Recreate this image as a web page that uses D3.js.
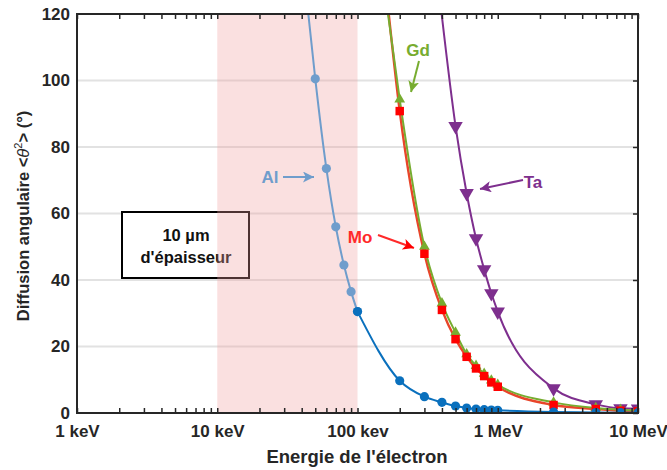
<!DOCTYPE html>
<html><head><meta charset="utf-8">
<script src="https://cdn.jsdelivr.net/npm/d3@7"></script>
<style>
body{margin:0;background:#fff;}
text{font-family:"Liberation Sans",Arial,sans-serif;font-weight:bold;}
</style></head>
<body><svg id="c" width="667" height="470"></svg>
<script>
// ---- data (energy in keV, angular diffusion in degrees) ----
const xTickValues = [1, 10, 100, 1000, 10000];
const xTickLabels = ["1 keV", "10 keV", "100 kev", "1 MeV", "10 MeV"];
const yTickValues = [0, 20, 40, 60, 80, 100, 120];

const energyAlLow = [50, 60, 70, 80, 90, 100];
const alLow = [100.5, 73.5, 56, 44.5, 36.5, 30.5];
const energyAlHigh = [100, 200, 300, 400, 500, 600, 700, 800, 900, 1000, 2500, 5000, 7500, 10000];
const alHigh = [30.5, 9.7, 4.9, 3.2, 2.1, 1.5, 1.2, 1.0, 0.9, 0.8, 0.3, 0.15, 0.1, 0.1];
const energyMoGd = [200, 300, 400, 500, 600, 700, 800, 900, 1000, 2500, 5000, 7500, 10000];
const mo = [90.8, 47.9, 31.0, 22.2, 16.9, 13.4, 11.1, 9.2, 7.9, 2.4, 1.2, 0.7, 0.5];
const gd = [94.3, 50.0, 33.0, 24.2, 17.7, 14.2, 11.8, 9.8, 8.5, 3.2, 1.5, 1.0, 0.8];
const energyTa = [500, 600, 700, 800, 900, 1000, 2500, 5000, 7500, 10000];
const ta = [86.3, 66.1, 52.5, 43.2, 36.0, 30.5, 7.4, 2.6, 1.4, 1.3];
// where each fitted curve leaves the top of the frame (energy, value)
const alTop = [44.6, 120];
const moTop = [167, 120];
const gdTop = [165, 120];
const taTop = [398, 120];
const shadedRange = [10, 100];

// ---- layout ----
const svg = d3.select("#c");
const L = 77, R = 638, T = 14, B = 413;
const x = d3.scaleLog().domain([1, 10000]).range([L, R]);
const y = d3.scaleLinear().domain([0, 120]).range([B, T]);
const axisCol = "#262626";

const defs = svg.append("defs");
defs.append("clipPath").attr("id", "clip").append("rect")
  .attr("x", L).attr("y", T).attr("width", R - L).attr("height", B - T);
function marker(id, col) {
  defs.append("marker").attr("id", id).attr("viewBox", "0 0 10 10")
    .attr("refX", 10).attr("refY", 5).attr("markerWidth", 11).attr("markerHeight", 11)
    .attr("markerUnits", "userSpaceOnUse").attr("orient", "auto")
    .append("path").attr("d", "M0,0 L10,5 L0,10 L2.5,5 Z").attr("fill", col);
}
const cAlL = "#6f9dcc", cAlH = "#0a70bd", cMo = "#ff0000", cMoLine = "#e8452a",
      cGd = "#77ac30", cTa = "#7e2f8e";
marker("aAl", cAlL); marker("aMo", cMo); marker("aGd", cGd); marker("aTa", cTa);

// grid
svg.append("g").selectAll("line").data(yTickValues.filter(v => v > 0 && v < 120)).join("line")
  .attr("x1", L).attr("x2", R).attr("y1", d => y(d)).attr("y2", d => y(d))
  .attr("stroke", "#e2e2e2").attr("stroke-width", 2);

// text box
svg.append("rect").attr("x", 122).attr("y", 212).attr("width", 127).attr("height", 66)
  .attr("fill", "#fff").attr("stroke", "#000").attr("stroke-width", 2);
svg.append("text").attr("x", 186).attr("y", 241).attr("text-anchor", "middle")
  .attr("font-size", 16.5).attr("fill", "#111").text("10 µm");
svg.append("text").attr("x", 186).attr("y", 263).attr("text-anchor", "middle")
  .attr("font-size", 16.5).attr("fill", "#111").text("d'épaisseur");

// shaded region
svg.append("rect").attr("x", x(shadedRange[0])).attr("y", T + 1)
  .attr("width", x(shadedRange[1]) - x(shadedRange[0])).attr("height", B - T - 1)
  .attr("fill", "rgb(240,160,160)").attr("opacity", 0.32);

// curves
const g = svg.append("g").attr("clip-path", "url(#clip)");
const line = d3.line().x(d => x(d[0])).y(d => y(d[1])).curve(d3.curveMonotoneX);
function pts(es, vs) { return es.map((e, i) => [e, vs[i]]); }
function drawLine(data, col, w) {
  g.append("path").datum(data).attr("d", line).attr("fill", "none")
    .attr("stroke", col).attr("stroke-width", w);
}
function drawMarks(data, type, size, col, rot) {
  g.append("g").selectAll("path").data(data).join("path")
    .attr("d", d3.symbol().type(type).size(size))
    .attr("transform", d => `translate(${x(d[0])},${y(d[1])}) rotate(${rot || 0})`)
    .attr("fill", col);
}
drawLine([taTop].concat(pts(energyTa, ta)), cTa, 2);
drawMarks(pts(energyTa, ta), d3.symbolTriangle, 90, cTa, 180);
drawLine([moTop].concat(pts(energyMoGd, mo)), cMoLine, 2.4);
drawLine([gdTop].concat(pts(energyMoGd, gd)), cGd, 2);
drawMarks(pts(energyMoGd, gd), d3.symbolTriangle, 50, cGd, 0);
drawMarks(pts(energyMoGd, mo), d3.symbolSquare, 72, cMo, 0);
drawLine([alTop].concat(pts(energyAlLow, alLow)), cAlL, 2);
drawLine(pts(energyAlHigh, alHigh), cAlH, 2);
drawMarks(pts(energyAlLow, alLow), d3.symbolCircle, 66, cAlL, 0);
drawMarks(pts(energyAlHigh, alHigh).slice(1), d3.symbolCircle, 66, cAlH, 0);
drawMarks([[energyAlHigh[0], alHigh[0]]], d3.symbolCircle, 66, cAlH, 0);

// axes
const minor = [];
for (let d = 1; d < 10000; d *= 10) for (let k = 2; k <= 9; k++) minor.push(d * k);
function styleAxis(sel) {
  sel.select(".domain").remove();
  sel.selectAll("line").attr("stroke", axisCol).attr("stroke-width", 1.5);
  sel.selectAll("text").attr("fill", axisCol).attr("font-size", 17);
}
svg.append("g").attr("transform", `translate(0,${B})`)
  .call(d3.axisBottom(x).tickValues(xTickValues.concat(minor)).tickSize(-5).tickFormat(() => ""))
  .call(styleAxis);
svg.append("g").attr("transform", `translate(0,${T})`)
  .call(d3.axisTop(x).tickValues(xTickValues.concat(minor)).tickSize(-5).tickFormat(() => ""))
  .call(styleAxis);
svg.append("g").attr("transform", `translate(0,${B})`)
  .call(d3.axisBottom(x).tickValues(xTickValues).tickSize(0).tickPadding(12)
    .tickFormat((d, i) => xTickLabels[i]))
  .call(styleAxis).selectAll("text").attr("dy", "0.71em");
svg.append("g").attr("transform", `translate(${L},0)`)
  .call(d3.axisLeft(y).tickValues(yTickValues).tickSize(0).tickPadding(7))
  .call(styleAxis);
svg.append("g").attr("transform", `translate(${R},0)`)
  .call(d3.axisRight(y).tickValues(yTickValues).tickSize(-5).tickFormat(() => ""))
  .call(styleAxis);
svg.append("rect").attr("x", L).attr("y", T).attr("width", R - L).attr("height", B - T)
  .attr("fill", "none").attr("stroke", axisCol).attr("stroke-width", 2);

// axis titles
svg.append("text").attr("x", 357).attr("y", 463).attr("text-anchor", "middle")
  .attr("font-size", 18.5).attr("fill", axisCol).text("Energie de l'électron");
const yt = svg.append("text").attr("transform", "translate(29,216) rotate(-90)")
  .attr("text-anchor", "middle").attr("font-size", 16.5).attr("fill", axisCol);
yt.append("tspan").text("Diffusion angulaire <");
yt.append("tspan").attr("font-style", "italic").attr("font-weight", "normal").text("θ");
yt.append("tspan").attr("font-size", 11).attr("dy", -7).attr("font-weight", "normal").text("2");
yt.append("tspan").attr("dy", 7).text(">  (°)");

// annotations
function annot(txt, tx, ty, col, x1, y1, x2, y2, m) {
  svg.append("text").attr("x", tx).attr("y", ty).attr("text-anchor", "middle")
    .attr("dominant-baseline", "central").attr("font-size", 17).attr("fill", col).text(txt);
  svg.append("line").attr("x1", x1).attr("y1", y1).attr("x2", x2).attr("y2", y2)
    .attr("stroke", col).attr("stroke-width", 2).attr("marker-end", `url(#${m})`);
}
annot("Al", 270, 177, cAlL, 283, 177, 314, 177, "aAl");
annot("Gd", 418, 50, cGd, 419, 61, 411, 92, "aGd");
annot("Mo", 360, 237, "#ff2a2a", 378, 235, 414, 248, "aMo");
annot("Ta", 533, 182, cTa, 523, 180, 480, 189, "aTa");
</script></body></html>
